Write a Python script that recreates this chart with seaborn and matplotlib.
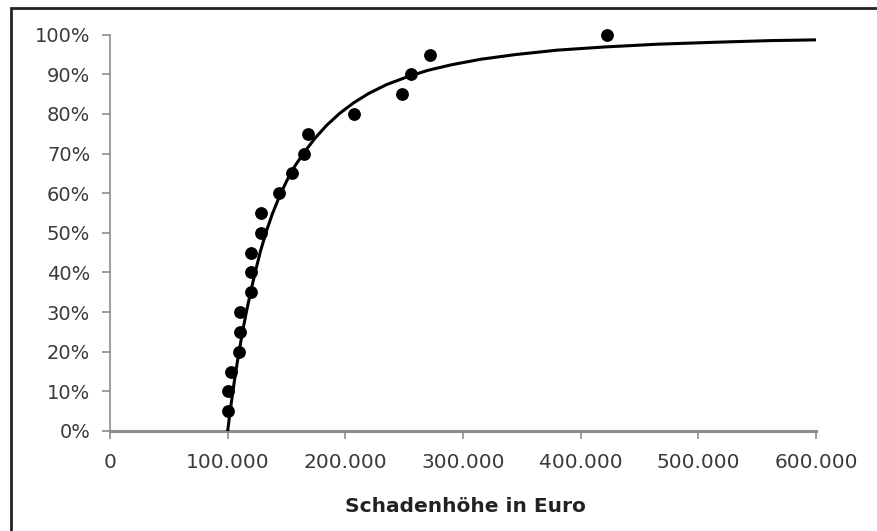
import matplotlib
matplotlib.use("Agg")
import matplotlib.pyplot as plt
import seaborn as sns
import pandas as pd
from matplotlib.patches import Rectangle

# Observed losses (EUR) and their cumulative share
loss_eur = [100000, 100000, 103000, 109500, 110500, 110500, 120000, 120000,
            120000, 128500, 128500, 144000, 154500, 165000, 168000, 207500,
            248000, 255500, 272000, 422000]
cum_share = [0.05, 0.10, 0.15, 0.20, 0.25, 0.30, 0.35, 0.40, 0.45, 0.50,
             0.55, 0.60, 0.65, 0.70, 0.75, 0.80, 0.85, 0.90, 0.95, 1.00]

# Fitted distribution function
fit_x = [100000, 102000, 104000, 106000, 108000, 110000, 113000, 116000,
         120000, 124000, 128000, 133000, 138000, 144000, 150000, 157000,
         165000, 174000, 184000, 195000, 207000, 220000, 235000, 252000,
         270000, 290000, 315000, 345000, 380000, 420000, 465000, 515000,
         560000, 600000]
fit_y = [0.000, 0.047, 0.091, 0.132, 0.170, 0.206, 0.256, 0.302,
         0.357, 0.408, 0.455, 0.505, 0.548, 0.592, 0.630, 0.668,
         0.703, 0.738, 0.771, 0.801, 0.828, 0.852, 0.874, 0.893,
         0.910, 0.924, 0.938, 0.950, 0.961, 0.969, 0.976, 0.981,
         0.985, 0.987]

x_ticks = [0, 100000, 200000, 300000, 400000, 500000, 600000]
x_tick_labels = ["0", "100.000", "200.000", "300.000", "400.000", "500.000", "600.000"]
y_ticks = [0.0, 0.1, 0.2, 0.3, 0.4, 0.5, 0.6, 0.7, 0.8, 0.9, 1.0]
y_tick_labels = ["0%", "10%", "20%", "30%", "40%", "50%", "60%", "70%", "80%", "90%", "100%"]
x_label = "Schadenhöhe in Euro"

points = pd.DataFrame({"loss": loss_eur, "share": cum_share})
curve = pd.DataFrame({"loss": fit_x, "share": fit_y})

sns.set_style("white")
plt.rcParams["font.family"] = ["DejaVu Sans"]

W, H = 877, 531
fig = plt.figure(figsize=(W / 100, H / 100), dpi=100)
fig.patch.set_facecolor("white")

# plot area: x 110..816 px, y 431..34.7 px
ax = fig.add_axes([110 / W, (H - 431) / H, (816 - 110) / W, (431 - 34.7) / H])
ax.set_facecolor("white")

sns.lineplot(data=curve, x="loss", y="share", ax=ax, color="black",
             linewidth=2.2, sort=False, estimator=None, zorder=3)
sns.scatterplot(data=points, x="loss", y="share", ax=ax, color="black",
                s=85, edgecolor="black", linewidth=0, zorder=4, clip_on=False)

ax.set_xlim(0, 600000)
ax.set_ylim(0, 1)
ax.set_xticks(x_ticks)
ax.set_xticklabels(x_tick_labels)
ax.set_yticks(y_ticks)
ax.set_yticklabels(y_tick_labels)

for side in ("top", "right"):
    ax.spines[side].set_visible(False)
ax.spines["left"].set_color("#8c8c8c")
ax.spines["left"].set_linewidth(1.2)
ax.spines["bottom"].set_color("#8c8c8c")
ax.spines["bottom"].set_linewidth(2.2)

tick_color = "#3a3a3a"
ax.tick_params(axis="y", direction="out", length=5.8, width=1.2, color="#8c8c8c",
               pad=8.5, labelsize=14, labelcolor=tick_color, left=True)
ax.tick_params(axis="x", direction="out", length=5.8, width=1.2, color="#8c8c8c",
               pad=10, labelsize=14.5, labelcolor=tick_color, bottom=True)

ax.set_xlabel(x_label, fontsize=14.5, fontweight="bold", color="#222222")
ax.set_ylabel("")
ax.xaxis.label.set_va("center")
ax.xaxis.set_label_coords(0.503, (431 - 507) / (431 - 34.7))

# outer frame (left and top edges visible)
fig.add_artist(Rectangle((11 / W, -0.2), 1.5, (H - 7.5) / H + 0.2,
                         transform=fig.transFigure, fill=False,
                         edgecolor="#222222", linewidth=2))

fig.savefig("out.png", dpi=100, facecolor="white")
